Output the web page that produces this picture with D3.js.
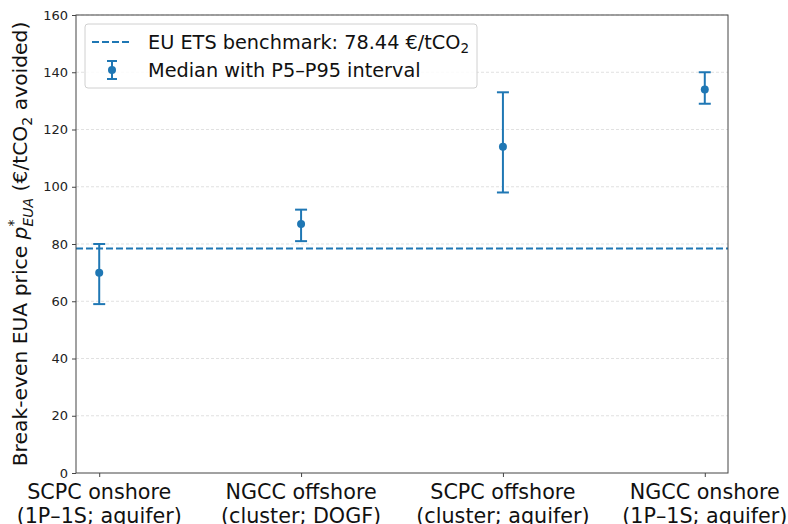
<!DOCTYPE html>
<html>
<head>
<meta charset="utf-8">
<script src="https://cdn.jsdelivr.net/npm/d3@7"></script>
<style>
  body { margin: 0; background: #fff; }
  svg { font-family: "DejaVu Sans", sans-serif; }
</style>
</head>
<body>
<script>
// chart data
var categories = ["SCPC onshore\n(1P–1S; aquifer)", "NGCC offshore\n(cluster; DOGF)",
                  "SCPC offshore\n(cluster; aquifer)", "NGCC onshore\n(1P–1S; aquifer)"];
var medians = [70, 87, 114, 134];
var p5 = [59, 81, 98, 129];
var p95 = [80, 92, 133, 140];
var benchmark = 78.44;
var yTicks = [0, 20, 40, 60, 80, 100, 120, 140, 160];

window.onload = drawChart();

function drawChart(){
    var width = 788,
        height = 524;
    var margin = {left: 76, right: 60, top: 15, bottom: 51};
    var blue = "#1f77b4";

    var svg = d3.select("body")
        .append("svg")
        .attr("width", width)
        .attr("height", height);

    var x = d3.scaleLinear()
        .domain([-0.115, categories.length - 1 + 0.115])
        .range([margin.left, width - margin.right]);

    var y = d3.scaleLinear()
        .domain([0, 160])
        .range([height - margin.bottom, margin.top]);

    // grid
    svg.selectAll(".grid")
        .data(yTicks.filter(function(d){ return d > 0; }))
        .enter()
        .append("line")
        .attr("class", "grid")
        .attr("x1", margin.left)
        .attr("x2", width - margin.right)
        .attr("y1", function(d){ return y(d); })
        .attr("y2", function(d){ return y(d); })
        .attr("stroke", "#d9d9d9")
        .attr("stroke-width", 0.8)
        .attr("stroke-dasharray", "3,2");

    // benchmark line
    svg.append("line")
        .attr("x1", margin.left)
        .attr("x2", width - margin.right)
        .attr("y1", y(benchmark))
        .attr("y2", y(benchmark))
        .attr("stroke", blue)
        .attr("stroke-width", 2)
        .attr("stroke-dasharray", "7,3");

    // error bars
    var bars = svg.selectAll(".err")
        .data(categories)
        .enter()
        .append("g")
        .attr("class", "err");

    bars.append("line")
        .attr("x1", function(d, i){ return x(i); })
        .attr("x2", function(d, i){ return x(i); })
        .attr("y1", function(d, i){ return y(p5[i]); })
        .attr("y2", function(d, i){ return y(p95[i]); })
        .attr("stroke", blue)
        .attr("stroke-width", 2);

    [p5, p95].forEach(function(arr){
        bars.append("line")
            .attr("x1", function(d, i){ return x(i) - 6; })
            .attr("x2", function(d, i){ return x(i) + 6; })
            .attr("y1", function(d, i){ return y(arr[i]); })
            .attr("y2", function(d, i){ return y(arr[i]); })
            .attr("stroke", blue)
            .attr("stroke-width", 2);
    });

    bars.append("circle")
        .attr("cx", function(d, i){ return x(i); })
        .attr("cy", function(d, i){ return y(medians[i]); })
        .attr("r", 4)
        .attr("fill", blue);

    // frame
    svg.append("rect")
        .attr("x", margin.left)
        .attr("y", margin.top)
        .attr("width", width - margin.left - margin.right)
        .attr("height", height - margin.top - margin.bottom)
        .attr("fill", "none")
        .attr("stroke", "#444")
        .attr("stroke-width", 1);

    // y axis
    var yAxis = svg.append("g")
        .attr("transform", "translate(" + margin.left + ",0)")
        .call(d3.axisLeft(y).tickValues(yTicks).tickSize(4).tickPadding(4));
    yAxis.select(".domain").remove();
    yAxis.selectAll("line").attr("stroke", "#444");
    yAxis.selectAll("text")
        .attr("font-family", "DejaVu Sans")
        .attr("font-size", 13)
        .attr("fill", "#222");

    // x axis
    var xAxis = svg.append("g")
        .attr("transform", "translate(0," + (height - margin.bottom) + ")")
        .call(d3.axisBottom(x).tickValues(d3.range(categories.length)).tickSize(4).tickFormat(""));
    xAxis.select(".domain").remove();
    xAxis.selectAll("line").attr("stroke", "#444");

    var xLabels = svg.selectAll(".xlab")
        .data(categories)
        .enter()
        .append("text")
        .attr("class", "xlab")
        .attr("text-anchor", "middle")
        .attr("font-size", 20.7)
        .attr("fill", "#111");
    xLabels.each(function(d, i){
        var t = d3.select(this);
        d.split("\n").forEach(function(line, j){
            t.append("tspan")
                .attr("x", x(i))
                .attr("y", 499 + j * 24)
                .text(line);
        });
    });

    // y label
    var ylab = svg.append("text")
        .attr("transform", "translate(27," + ((margin.top + height - margin.bottom) / 2) + ") rotate(-90)")
        .attr("text-anchor", "middle")
        .attr("font-size", 20.3)
        .attr("fill", "#111");
    ylab.append("tspan").text("Break-even EUA price ");
    ylab.append("tspan").attr("font-style", "italic").text("p");
    ylab.append("tspan").attr("font-size", 14).attr("dy", -9).text("*");
    ylab.append("tspan").attr("font-size", 14).attr("font-style", "italic").attr("dx", -7).attr("dy", 15).text("EUA");
    ylab.append("tspan").attr("dy", -6).text(" (€/tCO");
    ylab.append("tspan").attr("font-size", 14).attr("dy", 5).text("2");
    ylab.append("tspan").attr("dy", -5).text(" avoided)");

    // legend
    var legend = svg.append("g");
    legend.append("rect")
        .attr("x", 85)
        .attr("y", 24)
        .attr("width", 392)
        .attr("height", 64)
        .attr("rx", 3)
        .attr("fill", "#fff")
        .attr("fill-opacity", 0.85)
        .attr("stroke", "#d0d0d0");
    legend.append("line")
        .attr("x1", 92).attr("x2", 132)
        .attr("y1", 42).attr("y2", 42)
        .attr("stroke", blue)
        .attr("stroke-width", 2)
        .attr("stroke-dasharray", "7,3");
    var lt = legend.append("text")
        .attr("x", 148)
        .attr("y", 49)
        .attr("font-size", 19.3)
        .attr("fill", "#111");
    lt.append("tspan").text("EU ETS benchmark: " + benchmark.toFixed(2) + " €/tCO");
    lt.append("tspan").attr("font-size", 13.5).attr("dy", 4).text("2");

    legend.append("line")
        .attr("x1", 112).attr("x2", 112)
        .attr("y1", 61).attr("y2", 79)
        .attr("stroke", blue).attr("stroke-width", 2);
    [61, 79].forEach(function(yy){
        legend.append("line")
            .attr("x1", 107).attr("x2", 117)
            .attr("y1", yy).attr("y2", yy)
            .attr("stroke", blue).attr("stroke-width", 2);
    });
    legend.append("circle")
        .attr("cx", 112).attr("cy", 70).attr("r", 4).attr("fill", blue);
    legend.append("text")
        .attr("x", 148)
        .attr("y", 77)
        .attr("font-size", 19.3)
        .attr("fill", "#111")
        .text("Median with P5–P95 interval");
};
</script>
</body>
</html>
